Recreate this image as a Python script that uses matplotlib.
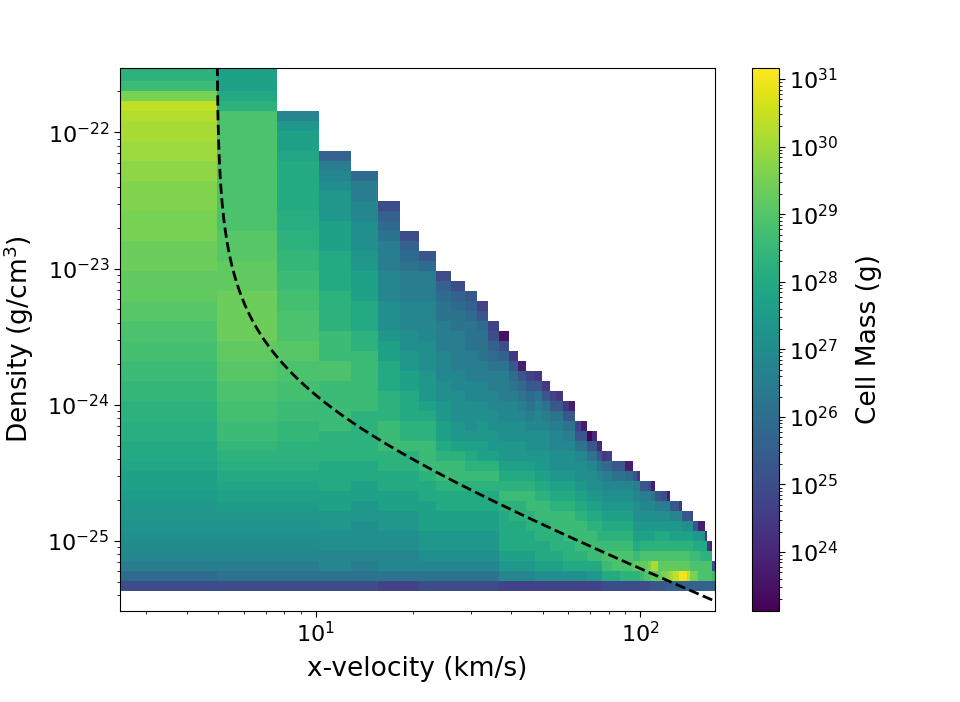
import numpy as np
import matplotlib
matplotlib.use("Agg")
import matplotlib.pyplot as plt
from matplotlib.colors import LogNorm
from matplotlib.ticker import NullFormatter, FixedLocator, LogLocator

# ---------------- data ----------------
# x-velocity bin edges (km/s)
vel_edges = [2.31, 4.95, 7.60, 10.24, 12.88, 15.52, 18.16, 20.80, 23.45, 26.09,
             28.73, 31.37, 34.01, 36.66, 39.30, 41.94, 44.58, 47.23, 49.87, 52.51,
             55.15, 57.79, 60.44, 63.08, 65.72, 68.36, 71.00, 73.65, 76.29, 78.93,
             81.57, 84.21, 86.86, 89.50, 92.14, 94.78, 97.42, 100.07, 102.71, 105.35,
             107.99, 110.63, 113.28, 115.92, 118.56, 121.20, 123.84, 126.49, 129.13, 131.77,
             134.41, 137.05, 139.70, 142.34, 144.98, 147.62, 150.26, 152.91, 155.55, 158.19,
             160.83, 163.47, 166.12, 168.76, 171.40]

# density bins (log10 g/cm^3): lowest edge, bin width, number of bins
log_rho_min = -25.3696
log_rho_step = 0.07348
n_rho_bins = 53

# cell mass per velocity bin, listed from the lowest density bin upward.
# one letter per bin: log10(M/g) = 23.2 + 0.3 * LEVELS.index(letter);
# an upper-case letter is half a step (0.15 dex) above its lower-case one.
LEVELS = "abcdefghijklmnopqrstuvwxyz*"
mass_columns = [
    "gjlmMnNooOppPqqQQ" "rrRR" "ssSS" "ttTT" "uuu" "UUU" "vvv" "VVV" "ww" "WW" "xx" "X" "yvsrr",
    "gklmMnNoOp" "PqQrR" "ssSS" "ttTT" "uu" "UUUUU" "uuu" "TTT" "tttttttttttt" "rqppp",
    "gklmMnNoOpPqQrrRRssSStt" "TT" "ttt" "SS" "ss" "RR" "rr" "QQ" "qqqqq" "Ppp" "om",
    "gkmmnnoopp" "qqq" "rrr" "sssss" "tt" "sss" "rrrr" "qqqq" "ppp" "ooo" "nmli",
    "gklmnnnoopp" "qq" "rrrrr" "ssssss" "rr" "qqq" "ppp" "oo" "nnn" "mm" "llj",
    "fkmmnnoopp" "qq" "rr" "sss" "rrr" "qqq" "pp" "o" "nnn" "mmm" "lll" "kjig",
    "fkmmnnoopp" "qq" "rr" "s" "rr" "qqq" "pp" "oo" "nn" "mmm" "lll" "kjig",
    "gkmnoopppqq" "r" "sss" "rr" "q" "p" "ooo" "nnn" "mmmm" "lll" "jh",
    "gkmnoopp" "qq" "r" "ss" "r" "q" "pp" "oo" "nn" "mmm" "lll" "kkjig",
    "gkmnoopp" "qq" "r" "ss" "r" "p" "oo" "nnn" "mm" "llll" "kkjig",
    "gkmnoopp" "qq" "rs" "rq" "po" "nnn" "mm" "lll" "kkk" "jih",
    "gkmnoopp" "qq" "rs" "r" "pp" "oo" "nn" "mm" "ll" "kkk" "jhf",
    "gkmnoopp" "qq" "rs" "rp" "oo" "nn" "mm" "ll" "kjigf",
    "fmopqqqqrsrqpoonnmmlllkigb",
    "fmopqqqrrsrqpoonnmmlkjhe",
    "fmopqqqrrsrqpoonnmlkjhc",
    "fmopqqrrssrqponnmlkjhf",
    "fnpqqrrssrqpoonnmmlkhe",
    "fnpqqrrssrqpoonnmlkhe",
    "fnpqrrssrqponnmmlkhf",
    "fnpqrrssrqponnmmlkhe",
    "fnqrrsssrqponnmlkhe",
    "fnqrrsssrqponnmlkhc",
    "fnqrsssrqponnmkhf",
    "fnqrsssrqponnmkhc",
    "foqsssrqponnmkha",
    "foqsssrqponnmkhd",
    "foqssrrqponmkhd",
    "gqstsrqponmlje",
    "gqstsrqponmljf",
    "gqttsrqponmkh",
    "gqttsrqponmkh",
    "grttsrqponmkh",
    "grttsrqponmjc",
    "grttsrqponmjc",
    "grusqponnmlh",
    "grusqponnmle",
    "gsutrponmlh",
    "gtutrponmlh",
    "gtvtrponmlg",
    "huxtrponmkc",
    "huxtrqonlh",
    "huutrqonlh",
    "hvutrqonlg",
    "hvutrqonlg",
    "iwutrqonlc",
    "ixutrpomh",
    "iyutrpomh",
    "iyutrpomh",
    "i*utrpome",
    "i*utrpnh",
    "i*utrpnh",
    "iyutrpnh",
    "ivtsrpng",
    "ivtsqoh",
    "ivtsqoh",
    "ittsqoc",
    "ittrqoc",
    "ittrqnc",
    "ittrqe",
    "ittre",
    "ittrc",
    "isg",
    "isg",
]

# dashed reference curve: rho = A / (v - v0)
curve_A = 5.93e-24
curve_v0 = 4.95

# axis / colour limits and labelled ticks
x_limits = (2.493, 169.4)
y_limits = (10 ** -25.5165, 10 ** -21.527)
mass_limits = (10 ** 23.127, 10 ** 31.163)
x_major_ticks = [1e1, 1e2]
y_major_ticks = [1e-25, 1e-24, 1e-23, 1e-22]
cbar_major_ticks = [1e24, 1e25, 1e26, 1e27, 1e28, 1e29, 1e30, 1e31]


def level_of(ch):
    base = LEVELS.index(ch.lower()) if ch != "*" else LEVELS.index("*")
    return 23.2 + 0.3 * base + (0.15 if ch.isupper() else 0.0)


# ---------------- build histogram ----------------
rho_edges = 10 ** (log_rho_min + log_rho_step * np.arange(n_rho_bins + 1))
grid = np.full((n_rho_bins, len(vel_edges) - 1), np.nan)
for c, col in enumerate(mass_columns):
    for r, ch in enumerate(col[:n_rho_bins]):
        grid[r, c] = 10 ** level_of(ch)

# ---------------- plot ----------------
fig = plt.figure(figsize=(9.6, 7.02), dpi=100)
ax = fig.add_axes([0.125, 0.1296, 0.6194, 0.7735])
cax = fig.add_axes([0.7833, 0.1296, 0.0282, 0.7735])

cmap = plt.get_cmap("viridis").copy()
cmap.set_bad("white")
mesh = ax.pcolormesh(np.array(vel_edges), rho_edges, np.ma.masked_invalid(grid),
                     cmap=cmap, norm=LogNorm(*mass_limits), shading="flat")
ax.set_xscale("log")
ax.set_yscale("log")

vv = np.logspace(np.log10(curve_v0 + 0.015), np.log10(x_limits[1]), 600)
ax.plot(vv, curve_A / (vv - curve_v0), "k--", lw=2)

ax.set_xlim(*x_limits)
ax.set_ylim(*y_limits)
ax.xaxis.set_major_locator(FixedLocator(x_major_ticks))
ax.yaxis.set_major_locator(FixedLocator(y_major_ticks))
ax.xaxis.set_minor_locator(LogLocator(base=10, subs=np.arange(2, 10)))
ax.yaxis.set_minor_locator(LogLocator(base=10, subs=np.arange(2, 10)))
ax.xaxis.set_minor_formatter(NullFormatter())
ax.yaxis.set_minor_formatter(NullFormatter())
ax.set_xlabel("x-velocity (km/s)", fontsize=19, labelpad=7)
ax.set_ylabel(r"Density (g/cm$^3$)", fontsize=19, labelpad=8)
ax.tick_params(which="major", labelsize=16, length=4)
ax.tick_params(which="minor", length=2.4)

cb = fig.colorbar(mesh, cax=cax)
cb.set_ticks(cbar_major_ticks)
cb.ax.yaxis.set_minor_formatter(NullFormatter())
cb.set_label("Cell Mass (g)", fontsize=19, labelpad=12)
cb.ax.tick_params(which="major", labelsize=16, length=4)
cb.ax.tick_params(which="minor", length=2.4)

fig.savefig("out.png", dpi=100)
